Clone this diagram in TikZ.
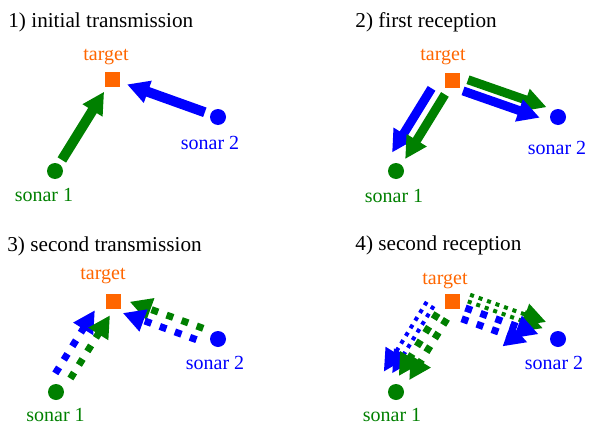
\documentclass[tikz,border=0pt]{standalone}
\usepackage{fontspec}
\setmainfont{Liberation Serif}
\usetikzlibrary{arrows.meta}
\definecolor{sgreen}{RGB}{0,128,0}
\definecolor{sblue}{RGB}{0,0,255}
\definecolor{torange}{RGB}{255,102,0}

\begin{document}
\begin{tikzpicture}[x=0.5pt,y=-0.5pt,
    ttl/.style={anchor=base west,inner sep=0pt,font=\fontsize{10.6pt}{12pt}\selectfont},
    lbl/.style={anchor=base,inner sep=0pt,font=\fontsize{10pt}{12pt}\selectfont},
    tgt/.style={fill=torange,minimum size=7.5pt,inner sep=0pt},
    sonar/.style={circle,fill=#1,minimum size=8pt,inner sep=0pt},
    arrhead/.style={-{Triangle[length=11pt,width=11pt]}},
    ping/.style={arrhead,line width=5pt},
    echo/.style={arrhead,line width=4.5pt},
    ping2/.style={arrhead,line width=3.5pt,dash pattern=on 3.5pt off 4.5pt},
    echo2/.style={arrhead,line width=2pt,dash pattern=on 2pt off 2.5pt}]
  \useasboundingbox (0,0) rectangle (589,423);

  % 1) both sonars ping the target
  \node[ttl] (h1) at (8,27) {1) initial transmission};
  \node[tgt] (t1) at (112,79) {};
  \node[sonar=sgreen] (a1) at (55,171) {};
  \node[sonar=sblue] (b1) at (218,117) {};
  \node[lbl,torange] (lt1) at (106,61) {target};
  \node[lbl,sgreen] (la1) at (44,201) {sonar 1};
  \node[lbl,sblue] (lb1) at (210,149) {sonar 2};
  \draw[ping,sgreen,shorten <=6.5pt,shorten >=7.5pt] (a1.center) -- (t1.center);
  \draw[ping,sblue,shorten <=7pt,shorten >=8pt] (b1.center) -- (t1.center);

  % 2) echoes come back to both
  \node[ttl] (h2) at (355,27) {2) first reception};
  \node[tgt] (t2) at (452,80) {};
  \node[sonar=sgreen] (a2) at (396,171) {};
  \node[sonar=sblue] (b2) at (558,117) {};
  \node[lbl,torange] (lt2) at (443,61) {target};
  \node[lbl,sgreen] (la2) at (394,202) {sonar 1};
  \node[lbl,sblue] (lb2) at (557,154) {sonar 2};
  \draw[echo,sblue,shorten <=9pt,shorten >=6.75pt] ([shift={(-11,-7)}]t2.center) -- ([shift={(-11,-7)}]a2.center);
  \draw[echo,sgreen,shorten <=8pt,shorten >=7.5pt] ([shift={(1.3,0.8)}]t2.center) -- ([shift={(1.3,0.8)}]a2.center);
  \draw[echo,sgreen,shorten <=7.5pt,shorten >=7pt] ([shift={(1.8,-5.2)}]t2.center) -- ([shift={(1.8,-5.2)}]b2.center);
  \draw[echo,sblue,shorten <=7pt,shorten >=8.5pt] ([shift={(-2.2,6.3)}]t2.center) -- ([shift={(-2.2,6.3)}]b2.center);

  % 3) second ping
  \node[ttl] (h3) at (7,251) {3) second transmission};
  \node[tgt] (t3) at (113,301) {};
  \node[sonar=sgreen] (a3) at (56,392) {};
  \node[sonar=sblue] (b3) at (218,339) {};
  \node[lbl,torange] (lt3) at (103,279) {target};
  \node[lbl,sgreen] (la3) at (55.5,421) {sonar 1};
  \node[lbl,sblue] (lb3) at (215,369) {sonar 2};
  \draw[ping2,sblue,shorten <=7.75pt,shorten >=8.7pt] ([shift={(-8.9,-5.5)}]a3.center) -- ([shift={(-8.9,-5.5)}]t3.center);
  \draw[ping2,sgreen,shorten <=9.5pt,shorten >=6.9pt] ([shift={(4.3,2.6)}]a3.center) -- ([shift={(4.3,2.6)}]t3.center);
  \draw[ping2,sgreen,shorten <=8.75pt,shorten >=8pt] ([shift={(1.7,-4.7)}]b3.center) -- ([shift={(1.7,-4.7)}]t3.center);
  \draw[ping2,sblue,shorten <=10pt,shorten >=6.65pt] ([shift={(-2.7,7.5)}]b3.center) -- ([shift={(-2.7,7.5)}]t3.center);

  % 4) second echoes, thin = the other sonar's ping
  \node[ttl] (h4) at (355,250) {4) second reception};
  \node[tgt] (t4) at (452,301) {};
  \node[sonar=sgreen] (a4) at (396,392) {};
  \node[sonar=sblue] (b4) at (558,339) {};
  \node[lbl,torange] (lt4) at (445,284) {target};
  \node[lbl,sgreen] (la4) at (392,421) {sonar 1};
  \node[lbl,sblue] (lb4) at (554,369) {sonar 2};
  \draw[echo2,sblue,shorten <=7pt,shorten >=5.5pt] ([shift={(-17.9,-11.1)}]t4.center) -- ([shift={(-17.9,-11.1)}]a4.center);
  \draw[echo2,sblue,shorten <=7pt,shorten >=7pt] ([shift={(-11.1,-6.9)}]t4.center) -- ([shift={(-11.1,-6.9)}]a4.center);
  \draw[ping2,sgreen,shorten <=9pt,shorten >=7.5pt] ([shift={(-5.1,-3.2)}]t4.center) -- ([shift={(-5.1,-3.2)}]a4.center);
  \draw[ping2,sgreen,shorten <=9pt,shorten >=8.5pt] ([shift={(4.3,2.6)}]t4.center) -- ([shift={(4.3,2.6)}]a4.center);
  \draw[echo2,sgreen,shorten <=7.5pt,shorten >=8.5pt] ([shift={(4,-11.3)}]t4.center) -- ([shift={(4,-11.3)}]b4.center);
  \draw[echo2,sgreen,shorten <=7.5pt,shorten >=9pt] ([shift={(1.7,-4.7)}]t4.center) -- ([shift={(1.7,-4.7)}]b4.center);
  \draw[ping2,sblue,shorten <=7.5pt,shorten >=10pt] ([shift={(-0.7,1.9)}]t4.center) -- ([shift={(-0.7,1.9)}]b4.center);
  \draw[ping2,sblue,shorten <=7.5pt,shorten >=13.8pt] ([shift={(-4.5,12.7)}]t4.center) -- ([shift={(-4.5,12.7)}]b4.center);
\end{tikzpicture}
\end{document}
